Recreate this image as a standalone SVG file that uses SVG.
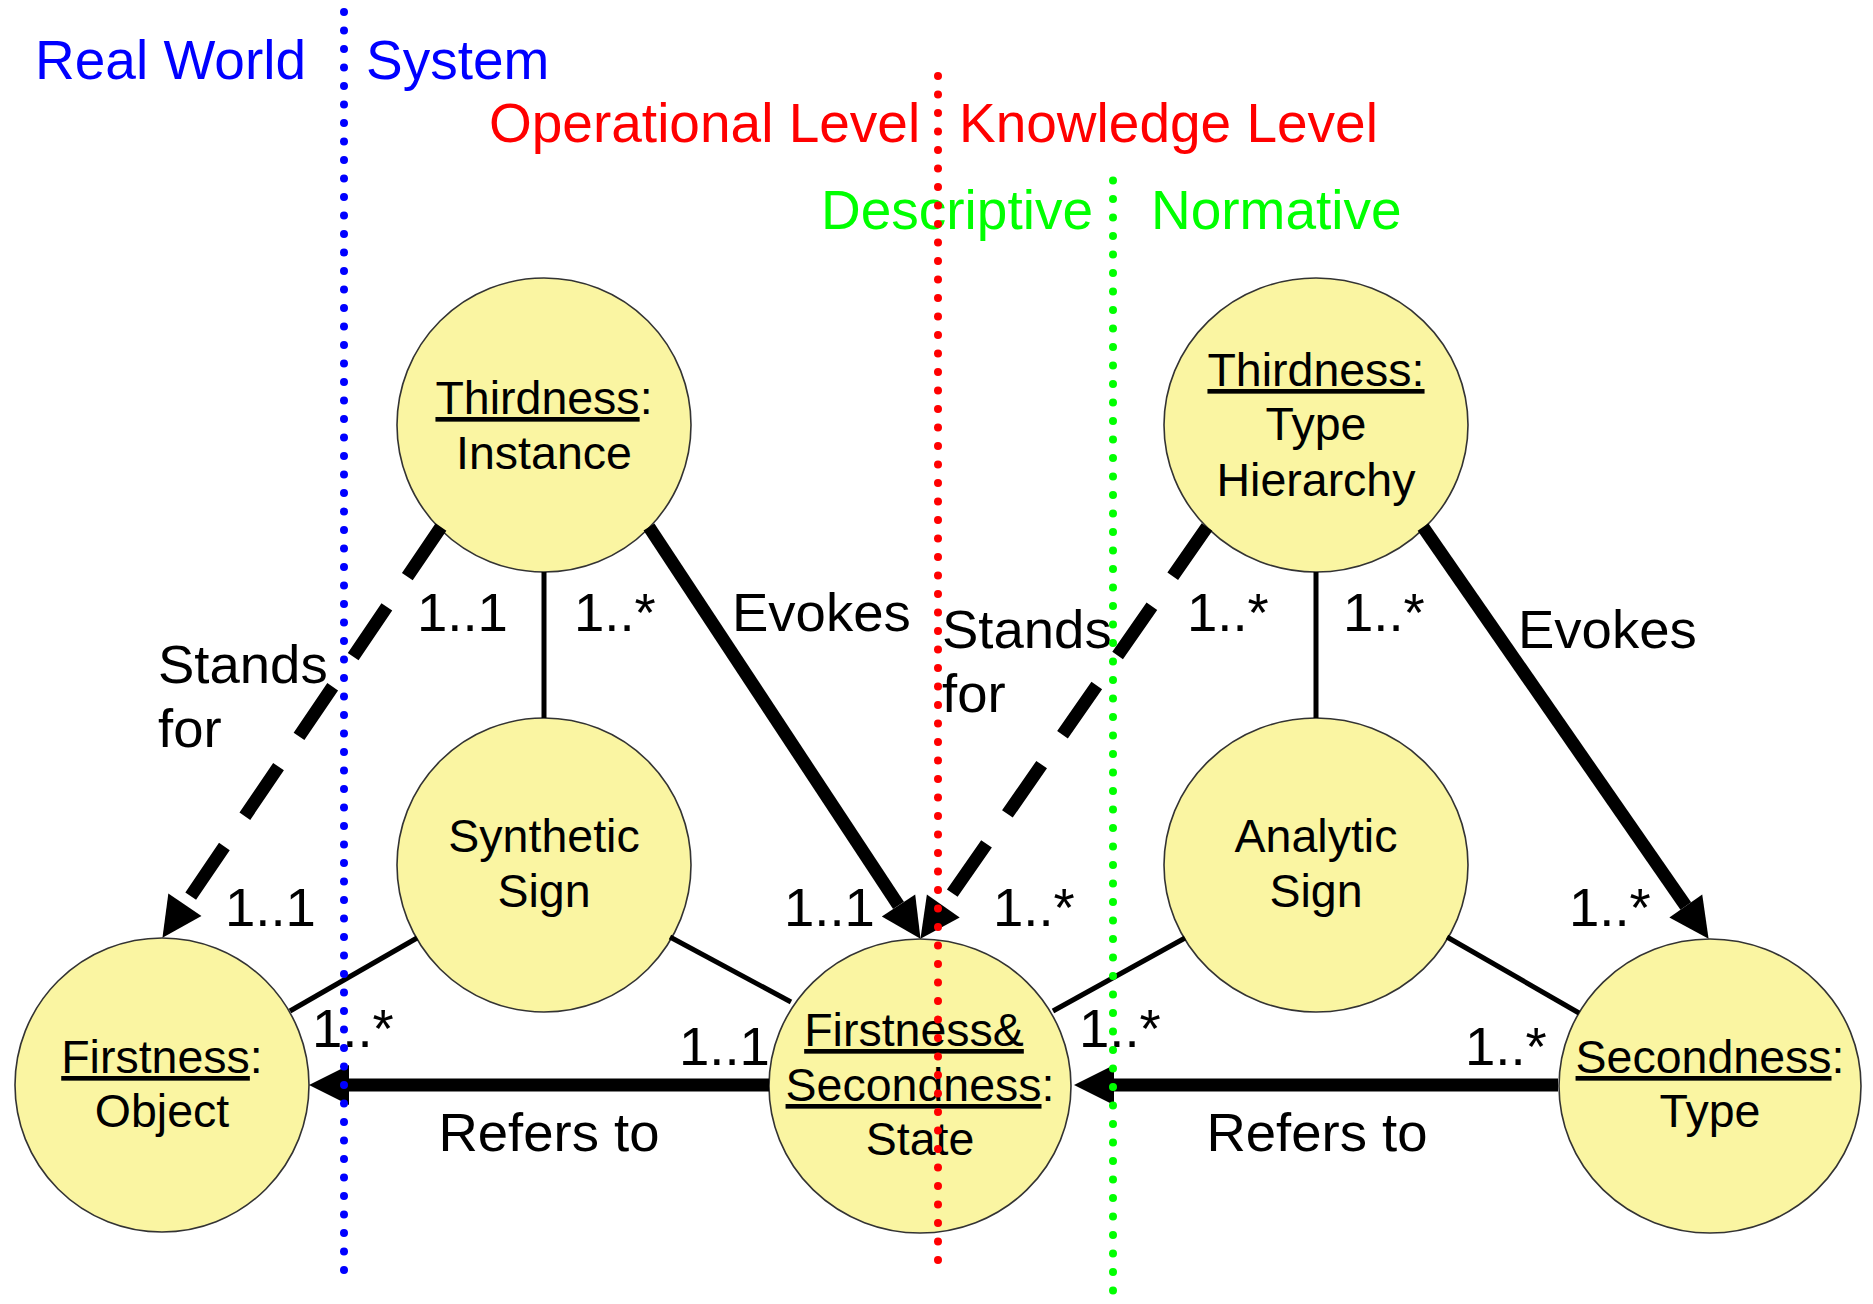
<svg xmlns="http://www.w3.org/2000/svg" width="1873" height="1304" viewBox="0 0 1873 1304">
  <defs>
    <style>
      .node { fill: #FAF5A2; stroke: #333333; stroke-width: 1.6; }
      .ntext { font-family: "Liberation Sans", Arial, sans-serif; font-size: 46.5px; fill: #000; text-anchor: middle; }
      .lbl { font-family: "Liberation Sans", Arial, sans-serif; font-size: 54.5px; fill: #000; }
      .head { font-family: "Liberation Sans", Arial, sans-serif; font-size: 55px; }
      .ul { text-decoration: underline; }
      .assoc { stroke: #000; stroke-width: 5; fill: none; }
      .thick { stroke: #000; stroke-width: 13; fill: none; marker-end: url(#arrow); }
      .dashed { stroke: #000; stroke-width: 13; fill: none; stroke-dasharray: 60 36.5; marker-end: url(#arrow); }
      .guide { fill: none; stroke-width: 8; stroke-linecap: round; stroke-dasharray: 0 18.5; }
    </style>
    <!-- filled triangular head; the line stops at the head's base -->
    <marker id="arrow" viewBox="0 -21 40 42" refX="0" refY="0" markerWidth="40" markerHeight="42" markerUnits="userSpaceOnUse" orient="auto" overflow="visible">
      <path d="M0,-20 L40,0 L0,20 Z" fill="#000"/>
    </marker>
  </defs>

  <rect width="1873" height="1304" fill="#FFFFFF"/>

  <!-- nodes -->
  <g id="thirdness-instance">
    <ellipse class="node" cx="544" cy="425" rx="147" ry="147"/>
    <text class="ntext" x="544" y="414"><tspan class="ul">Thirdness</tspan>:</text>
    <text class="ntext" x="544" y="469">Instance</text>
  </g>
  <g id="thirdness-type-hierarchy">
    <ellipse class="node" cx="1316" cy="425" rx="152" ry="147"/>
    <text class="ntext" x="1316" y="386"><tspan class="ul">Thirdness:</tspan></text>
    <text class="ntext" x="1316" y="440">Type</text>
    <text class="ntext" x="1316" y="496">Hierarchy</text>
  </g>
  <g id="synthetic-sign">
    <ellipse class="node" cx="544" cy="865" rx="147" ry="147"/>
    <text class="ntext" x="544" y="852">Synthetic</text>
    <text class="ntext" x="544" y="907">Sign</text>
  </g>
  <g id="analytic-sign">
    <ellipse class="node" cx="1316" cy="865" rx="152" ry="147"/>
    <text class="ntext" x="1316" y="852">Analytic</text>
    <text class="ntext" x="1316" y="907">Sign</text>
  </g>
  <g id="firstness-object">
    <ellipse class="node" cx="162" cy="1085" rx="147" ry="147"/>
    <text class="ntext" x="162" y="1073"><tspan class="ul">Firstness</tspan>:</text>
    <text class="ntext" x="162" y="1127">Object</text>
  </g>
  <g id="state">
    <ellipse class="node" cx="920" cy="1086" rx="151" ry="147"/>
    <text class="ntext" x="914" y="1046"><tspan class="ul">Firstness&amp;</tspan></text>
    <text class="ntext" x="920" y="1101"><tspan class="ul">Secondness</tspan>:</text>
    <text class="ntext" x="920" y="1155">State</text>
  </g>
  <g id="secondness-type">
    <ellipse class="node" cx="1710" cy="1086" rx="151" ry="147"/>
    <text class="ntext" x="1710" y="1073"><tspan class="ul">Secondness</tspan>:</text>
    <text class="ntext" x="1710" y="1127">Type</text>
  </g>

  <!-- connectors -->
  <g id="connectors">
    <line class="assoc" x1="544" y1="572" x2="544" y2="718"/>
    <line class="assoc" x1="1316" y1="572" x2="1316" y2="718"/>
    <line class="assoc" x1="417" y1="938" x2="290" y2="1011"/>
    <line class="assoc" x1="670" y1="937" x2="791" y2="1002"/>
    <line class="assoc" x1="1185" y1="938" x2="1053" y2="1011"/>
    <line class="assoc" x1="1447" y1="937" x2="1579" y2="1013"/>

    <!-- Evokes -->
    <line class="thick" x1="649" y1="527" x2="898.5" y2="905.4"/>
    <line class="thick" x1="1423" y1="527" x2="1685.8" y2="906"/>
    <!-- Refers to -->
    <line class="thick" x1="769" y1="1085" x2="349" y2="1085"/>
    <line class="thick" x1="1558" y1="1085" x2="1114" y2="1085"/>
    <!-- Stands for -->
    <line class="dashed" x1="441" y1="527" x2="184.9" y2="904.7"/>
    <line class="dashed" x1="1207" y1="527" x2="943.3" y2="906"/>
  </g>

  <!-- edge labels and multiplicities -->
  <g id="labels">
    <text class="lbl" x="417" y="631">1..1</text>
    <text class="lbl" x="574" y="631">1..*</text>
    <text class="lbl" x="732" y="631">Evokes</text>
    <text class="lbl" x="158" y="683">Stands</text>
    <text class="lbl" x="158" y="747">for</text>

    <text class="lbl" x="1187" y="631">1..*</text>
    <text class="lbl" x="1343" y="631">1..*</text>
    <text class="lbl" x="1518" y="648">Evokes</text>
    <text class="lbl" x="942" y="648">Stands</text>
    <text class="lbl" x="942" y="712">for</text>

    <text class="lbl" x="225" y="926">1..1</text>
    <text class="lbl" x="312" y="1047">1..*</text>
    <text class="lbl" x="679" y="1065">1..1</text>
    <text class="lbl" x="784" y="926">1..1</text>
    <text class="lbl" x="993" y="926">1..*</text>
    <text class="lbl" x="1079" y="1047">1..*</text>
    <text class="lbl" x="1465" y="1065">1..*</text>
    <text class="lbl" x="1569" y="926">1..*</text>

    <text class="lbl" x="549" y="1151" text-anchor="middle">Refers to</text>
    <text class="lbl" x="1317" y="1151" text-anchor="middle">Refers to</text>
  </g>

  <!-- level headings -->
  <g id="headings">
    <text class="head" x="35" y="79" fill="#0000FF">Real World</text>
    <text class="head" x="366" y="79" fill="#0000FF">System</text>
    <text class="head" x="489" y="142" fill="#FF0000">Operational Level</text>
    <text class="head" x="959" y="142" fill="#FF0000">Knowledge Level</text>
    <text class="head" x="821" y="229" fill="#00FF00">Descriptive</text>
    <text class="head" x="1151" y="229" fill="#00FF00">Normative</text>
  </g>

  <!-- dotted boundaries -->
  <g id="boundaries">
    <line class="guide" x1="344" y1="12" x2="344" y2="1272" stroke="#0000FF"/>
    <line class="guide" x1="938" y1="76" x2="938" y2="1265" stroke="#FF0000"/>
    <line class="guide" x1="1113" y1="180.5" x2="1113" y2="1295" stroke="#00FF00"/>
  </g>
</svg>
